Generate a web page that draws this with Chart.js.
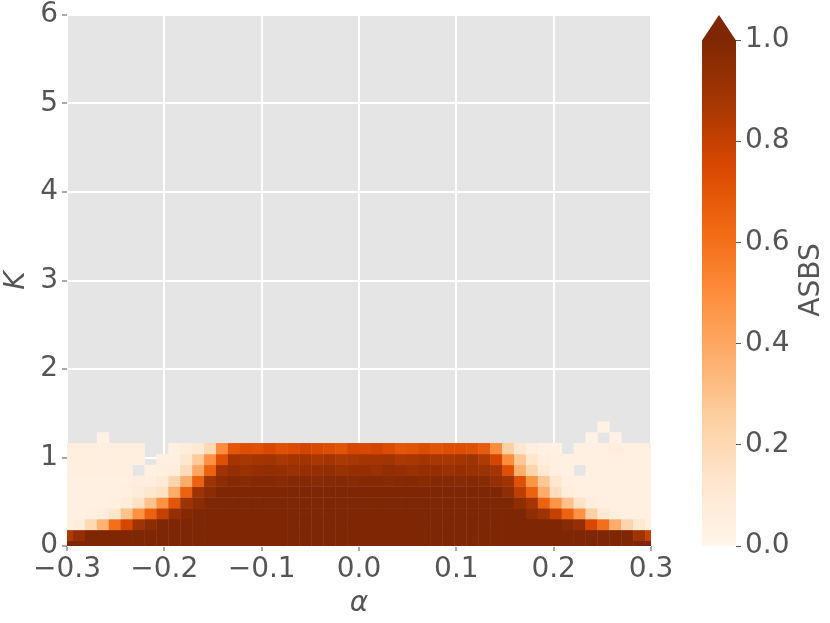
<!DOCTYPE html>
<html>
<head>
<meta charset="utf-8">
<script src="https://cdn.jsdelivr.net/npm/chart.js@4.4.1/dist/chart.umd.min.js"></script>
<style>
html,body{margin:0;padding:0;background:#ffffff;}
#wrap{position:relative;width:830px;height:623px;overflow:hidden;}
#main{position:absolute;left:0;top:0;}
#cbar{position:absolute;left:690px;top:0;}
</style>
</head>
<body>
<div id="wrap">
<canvas id="main" width="830" height="623"></canvas>
<canvas id="cbar" width="140" height="623"></canvas>
</div>
<script>
// ---- grid coordinates (cell centres) ----
const alphaValues = [-0.3000,-0.2878,-0.2755,-0.2633,-0.2510,-0.2388,-0.2265,-0.2143,-0.2020,-0.1898,
 -0.1776,-0.1653,-0.1531,-0.1408,-0.1286,-0.1163,-0.1041,-0.0918,-0.0796,-0.0673,
 -0.0551,-0.0429,-0.0306,-0.0184,-0.0061,0.0061,0.0184,0.0306,0.0429,0.0551,
 0.0673,0.0796,0.0918,0.1041,0.1163,0.1286,0.1408,0.1531,0.1653,0.1776,
 0.1898,0.2020,0.2143,0.2265,0.2388,0.2510,0.2633,0.2755,0.2878,0.3000];
const kValues = [0,0.1224,0.2449,0.3673,0.4898,0.6122,0.7347,0.8571,0.9796,1.1020,1.2245,1.3469];
const xTicks = [-0.3,-0.2,-0.1,0.0,0.1,0.2,0.3];
const yTicks = [0,1,2,3,4,5,6];
const cbarTicks = [0,0.2,0.4,0.6,0.8,1.0];

// ---- ASBS values, one array per K row (null = no data) ----
const asbsK00 = [1,1,1,1,1,1,1,1,1,1, 1,1,1,1,1,1,1,1,1,1, 1,1,1,1,1,1,1,1,1,1, 1,1,1,1,1,1,1,1,1,1, 1,1,1,1,1,1,1,1,1,1];
const asbsK01 = [0.85,0.93,1,1,1,1,1,1,1,1, 1,1,1,1,1,1,1,1,1,1, 1,1,1,1,1,1,1,1,1,1, 1,1,1,1,1,1,1,1,1,1, 1,1,1,1,1,1,1,1,0.9,0.8];
const asbsK02 = [0.05,0.07,0.2,0.36,0.6,0.76,0.9,0.96,1,1, 1,1,1,1,1,1,1,1,1,1, 1,1,1,1,1,1,1,1,1,1, 1,1,1,1,1,1,1,1,1,1, 1,1,0.97,0.93,0.75,0.6,0.38,0.22,0.12,0.04];
const asbsK03 = [0.04,0.04,0.05,0.07,0.12,0.3,0.48,0.65,0.8,0.93, 0.98,1,1,1,1,1,1,1,1,1, 1,1,1,1,1,1,1,1,1,1, 1,1,1,1,1,1,1,1,1,0.95, 0.9,0.8,0.65,0.48,0.25,0.1,0.05,0.04,0.04,0.04];
const asbsK04 = [0.04,0.04,0.04,0.04,0.05,0.08,0.15,0.3,0.48,0.7, 0.9,0.96,1,1,1,1,1,1,1,1, 1,1,1,1,1,1,1,1,1,1, 1,1,1,1,1,1,1,1,0.95,0.88, 0.65,0.47,0.3,0.15,0.06,0.04,0.04,0.04,0.04,0.04];
const asbsK05 = [0.04,0.04,0.04,0.04,0.04,0.05,0.08,0.12,0.15,0.38, 0.65,0.9,0.96,1,1,1,1,1,1,1, 1,1,1,1,1,1,1,1,1,1, 1,1,1,1,1,1,1,0.95,0.82,0.65, 0.38,0.17,0.07,0.04,0.04,0.04,0.04,0.04,0.04,0.04];
const asbsK06 = [0.04,0.04,0.04,0.04,0.04,0.04,0.06,0.06,0.09,0.22, 0.38,0.65,0.9,0.96,0.98,0.97,0.98,0.98,0.97,0.98, 0.98,0.97,0.98,0.98,0.97,0.98,0.98,0.97,0.98,0.98, 0.97,0.98,0.98,0.97,0.98,0.97,0.93,0.9,0.72,0.47, 0.28,0.12,0.05,0.04,0.04,0.04,0.04,0.04,0.04,0.04];
const asbsK07 = [0.05,0.05,0.05,0.05,0.05,0.05,null,0.04,0.05,0.07, 0.18,0.4,0.65,0.9,0.93,0.92,0.93,0.94,0.93,0.92, 0.93,0.93,0.94,0.92,0.93,0.93,0.92,0.94,0.93,0.92, 0.93,0.93,0.92,0.93,0.92,0.91,0.88,0.72,0.37,0.22, 0.1,0.05,0.04,null,0.04,0.04,0.04,0.04,0.04,0.04];
const asbsK08 = [0.05,0.05,0.05,0.05,0.05,0.05,0.05,null,0.04,0.05, 0.12,0.27,0.48,0.72,0.88,0.87,0.88,0.89,0.87,0.88, 0.89,0.87,0.88,0.86,0.87,0.88,0.88,0.89,0.86,0.87, 0.88,0.87,0.87,0.88,0.9,0.85,0.76,0.5,0.28,0.13, 0.06,0.04,0.04,0.04,0.04,0.04,0.04,0.04,0.04,0.04];
const asbsK09 = [0.05,0.05,0.05,0.05,0.05,0.05,0.05,null,null,0.04, 0.07,0.1,0.2,0.5,0.7,0.73,0.72,0.75,0.72,0.74, 0.77,0.75,0.73,0.71,0.76,0.75,0.77,0.74,0.7,0.71, 0.74,0.71,0.73,0.73,0.72,0.68,0.5,0.25,0.12,0.06, 0.04,0.03,null,0.04,0.04,0.04,0.06,0.04,0.04,0.04];
const asbsK10 = [null,null,null,0.03,null,null,null,null,null,null, null,null,null,null,null,null,null,null,null,null, null,null,null,null,null,null,null,null,null,null, null,null,null,null,null,null,null,null,null,null, null,null,null,null,0.03,null,0.03,null,null,null];
const asbsK11 = [null,null,null,null,null,null,null,null,null,null, null,null,null,null,null,null,null,null,null,null, null,null,null,null,null,null,null,null,null,null, null,null,null,null,null,null,null,null,null,null, null,null,null,null,null,0.03,null,null,null,null];
const asbsRows = [asbsK00,asbsK01,asbsK02,asbsK03,asbsK04,asbsK05,asbsK06,asbsK07,asbsK08,asbsK09,asbsK10,asbsK11];

// ---- colormap (matplotlib "Oranges") ----
const ORANGES = [[255,245,235],[254,230,206],[253,208,162],[253,174,107],[253,141,60],[241,105,19],[217,72,1],[166,54,3],[127,39,4]];
function cmap(v){
  v = Math.max(0, Math.min(1, v));
  const t = v * 8, i = Math.min(7, Math.floor(t)), f = t - i;
  const a = ORANGES[i], b = ORANGES[i+1];
  return 'rgb(' + [0,1,2].map(c => Math.round(a[c] + (b[c]-a[c])*f)).join(',') + ')';
}
function edges(c){
  const e = [];
  for (let i = 0; i <= c.length; i++){
    if (i === 0) e.push(c[0] - (c[1]-c[0])/2);
    else if (i === c.length) e.push(c[c.length-1] + (c[c.length-1]-c[c.length-2])/2);
    else e.push((c[i-1]+c[i])/2);
  }
  return e;
}

const FONT = 'DejaVu Sans';
const TXT = '#555555';
Chart.defaults.font.family = FONT;
Chart.defaults.font.size = 28;
Chart.defaults.color = TXT;

const fmt = v => { const s = (Math.abs(v) < 1e-9 ? 0 : v).toFixed(1); return s.replace('-', '\u2212'); };

const bgPlugin = {
  id: 'bg',
  beforeDraw(chart){
    const {ctx, chartArea: a} = chart;
    ctx.save(); ctx.fillStyle = '#e5e5e5'; ctx.fillRect(a.left, a.top, a.width, a.height); ctx.restore();
  }
};
const heatPlugin = {
  id: 'heat',
  beforeDatasetsDraw(chart){
    const {ctx, chartArea: a, scales: {x, y}} = chart;
    const xe = edges(alphaValues);
    const ke = edges(kValues);
    ctx.save();
    ctx.beginPath(); ctx.rect(a.left, a.top, a.width, a.height); ctx.clip();
    asbsRows.forEach((row, j) => {
      const yb = y.getPixelForValue(ke[j]), yt = y.getPixelForValue(ke[j+1]);
      row.forEach((v, i) => {
        if (v === null) return;
        const xl = x.getPixelForValue(xe[i]), xr = x.getPixelForValue(xe[i+1]);
        ctx.fillStyle = cmap(v);
        ctx.fillRect(xl, yt, xr - xl + 0.4, yb - yt + 0.4);
      });
    });
    ctx.restore();
  }
};

new Chart(document.getElementById('main'), {
  type: 'scatter',
  data: { datasets: [{ data: [], showLine: false }] },
  options: {
    responsive: false, animation: false, devicePixelRatio: 1,
    layout: { padding: { left: 0, right: 179, top: 15, bottom: 0 } },
    plugins: { legend: { display: false }, tooltip: { enabled: false } },
    scales: {
      x: {
        type: 'linear', min: -0.3, max: 0.3,
        afterBuildTicks: s => { s.ticks = xTicks.map(v => ({ value: v })); },
        afterFit: s => { s.height = 77; s.paddingLeft = 0; s.paddingRight = 0; },
        ticks: { callback: v => fmt(v), autoSkip: false, maxRotation: 0, padding: 2, color: TXT, font: { size: 28 } },
        grid: { color: '#ffffff', lineWidth: 2, tickColor: TXT, tickLength: 5, tickWidth: 1 },
        border: { display: false },
        title: { display: true, text: '\u03b1', color: TXT, font: { size: 28, style: 'italic' }, padding: { top: 0, bottom: 2 } }
      },
      y: {
        type: 'linear', min: 0, max: 6,
        afterBuildTicks: s => { s.ticks = yTicks.map(v => ({ value: v })); },
        afterFit: s => { s.width = 67; s.paddingTop = 0; s.paddingBottom = 0; },
        ticks: { callback: v => String(v), padding: 4, color: TXT, font: { size: 28 } },
        grid: { color: '#ffffff', lineWidth: 2, tickColor: TXT, tickLength: 5, tickWidth: 1 },
        border: { display: false },
        title: { display: true, text: 'K', color: TXT, font: { size: 28, style: 'italic' }, padding: { top: 0, bottom: 0 } }
      }
    }
  },
  plugins: [bgPlugin, heatPlugin]
});

const cbarPlugin = {
  id: 'cbarExtras',
  afterDatasetsDraw(chart){
    const {ctx, chartArea: a} = chart;
    ctx.save();
    ctx.fillStyle = cmap(1);
    ctx.beginPath();
    ctx.moveTo(a.left, a.top + 0.5);
    ctx.lineTo(a.right, a.top + 0.5);
    ctx.lineTo((a.left + a.right) / 2, 15);
    ctx.closePath();
    ctx.fill();
    ctx.translate(122, 280);
    ctx.rotate(-Math.PI / 2);
    ctx.fillStyle = TXT;
    ctx.font = '28px "' + FONT + '"';
    ctx.textAlign = 'center';
    ctx.textBaseline = 'middle';
    ctx.fillText('ASBS', 0, 0);
    ctx.restore();
  }
};

new Chart(document.getElementById('cbar'), {
  type: 'bar',
  data: {
    labels: ['ASBS'],
    datasets: [{
      data: [[0, 1]],
      borderWidth: 0,
      barPercentage: 1, categoryPercentage: 1,
      backgroundColor: c => {
        const a = c.chart.chartArea;
        if (!a) return cmap(1);
        const g = c.chart.ctx.createLinearGradient(0, a.bottom, 0, a.top);
        ORANGES.forEach((col, i) => g.addColorStop(i / 8, 'rgb(' + col.join(',') + ')'));
        return g;
      }
    }]
  },
  options: {
    responsive: false, animation: false, devicePixelRatio: 1,
    layout: { padding: { left: 12, right: 0, top: 40, bottom: 77 } },
    plugins: { legend: { display: false }, tooltip: { enabled: false } },
    scales: {
      x: { display: false },
      y: {
        position: 'right', min: 0, max: 1,
        afterBuildTicks: s => { s.ticks = cbarTicks.map(v => ({ value: v })); },
        afterFit: s => { s.width = 94; s.paddingTop = 0; s.paddingBottom = 0; },
        ticks: { callback: v => fmt(v), padding: 4, color: TXT, font: { size: 28 } },
        grid: { drawOnChartArea: false, drawTicks: true, tickColor: TXT, tickLength: 5, tickWidth: 1 },
        border: { display: false }
      }
    }
  },
  plugins: [cbarPlugin]
});
</script>
</body>
</html>
